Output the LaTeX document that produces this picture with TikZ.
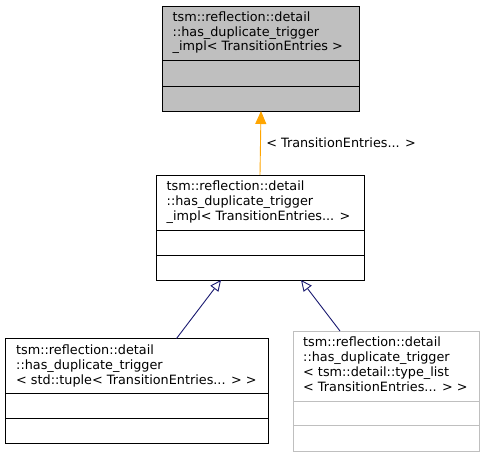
\documentclass[tikz,border=0pt]{standalone}
\usepackage{fontspec}
\setmainfont{DejaVu Sans}
\usetikzlibrary{arrows.meta}
\definecolor{boxgray}{HTML}{BFBFBF}
\definecolor{lightedge}{HTML}{BFBFBF}
\definecolor{inhblue}{HTML}{191970}
\definecolor{tmplorange}{HTML}{FFA500}
\tikzset{
  classbox/.style={draw=black, line width=0.9pt, minimum width=#1, inner sep=0pt, outer sep=0pt, rectangle},
  classtext/.style={anchor=north west, align=left, inner sep=0pt, font=\fontsize{12.8pt}{14.8pt}\selectfont},
  inherit/.style={draw=inhblue, line width=0.9pt, -{Triangle[open, length=11pt, width=10pt, fill=white]}},
  tmplarrow/.style={draw=tmplorange, line width=0.9pt, -{Triangle[length=13pt, width=11pt, fill=tmplorange]}},
}
\begin{document}
\begin{tikzpicture}[x=1pt, y=-1pt]
\useasboundingbox (0,0) rectangle (485,457);
% top box
\node[classbox=197pt, minimum height=105pt, fill=boxgray, anchor=north west] (top) at (162.5,6) {};
\draw[line width=0.9pt] (top.west |- 0,60.5) -- (top.east |- 0,60.5);
\draw[line width=0.9pt] (top.west |- 0,86) -- (top.east |- 0,86);
\node[classtext] (toptext) at (172.5,11.3) {tsm::reflection::detail\\::has\_duplicate\_trigger\\\_impl< TransitionEntries >};
% middle box
\node[classbox=208pt, minimum height=105pt, fill=white, anchor=north west] (mid) at (156,175) {};
\draw[line width=0.9pt] (mid.west |- 0,230) -- (mid.east |- 0,230);
\draw[line width=0.9pt] (mid.west |- 0,255) -- (mid.east |- 0,255);
\node[classtext] (midtext) at (166.5,181) {tsm::reflection::detail\\::has\_duplicate\_trigger\\\_impl< TransitionEntries... >};
% bottom left box
\node[classbox=263pt, minimum height=105pt, fill=white, anchor=north west] (bl) at (5,338.5) {};
\draw[line width=0.9pt] (bl.west |- 0,393.5) -- (bl.east |- 0,393.5);
\draw[line width=0.9pt] (bl.west |- 0,418.5) -- (bl.east |- 0,418.5);
\node[classtext] (bltext) at (16,345) {tsm::reflection::detail\\::has\_duplicate\_trigger\\< std::tuple< TransitionEntries... > >};
% bottom right box
\node[classbox=186pt, minimum height=120pt, fill=white, draw=lightedge, anchor=north west] (br) at (293,331) {};
\draw[line width=0.9pt, lightedge] (br.west |- 0,401) -- (br.east |- 0,401);
\draw[line width=0.9pt, lightedge] (br.west |- 0,425) -- (br.east |- 0,425);
\node[classtext] (brtext) at (303,337) {tsm::reflection::detail\\::has\_duplicate\_trigger\\< tsm::detail::type\_list\\< TransitionEntries... > >};
% connectors
\draw[tmplarrow] (mid.north) -- node[right, xshift=2pt, font=\fontsize{12.8pt}{14.8pt}\selectfont] (lbl) {< TransitionEntries... >} (top.south);
\draw[inherit] ([xshift=40pt]bl.north) -- ([xshift=-39pt]mid.south);
\draw[inherit] ([xshift=-46pt]br.north) -- ([xshift=41pt]mid.south);
\end{tikzpicture}
\end{document}
